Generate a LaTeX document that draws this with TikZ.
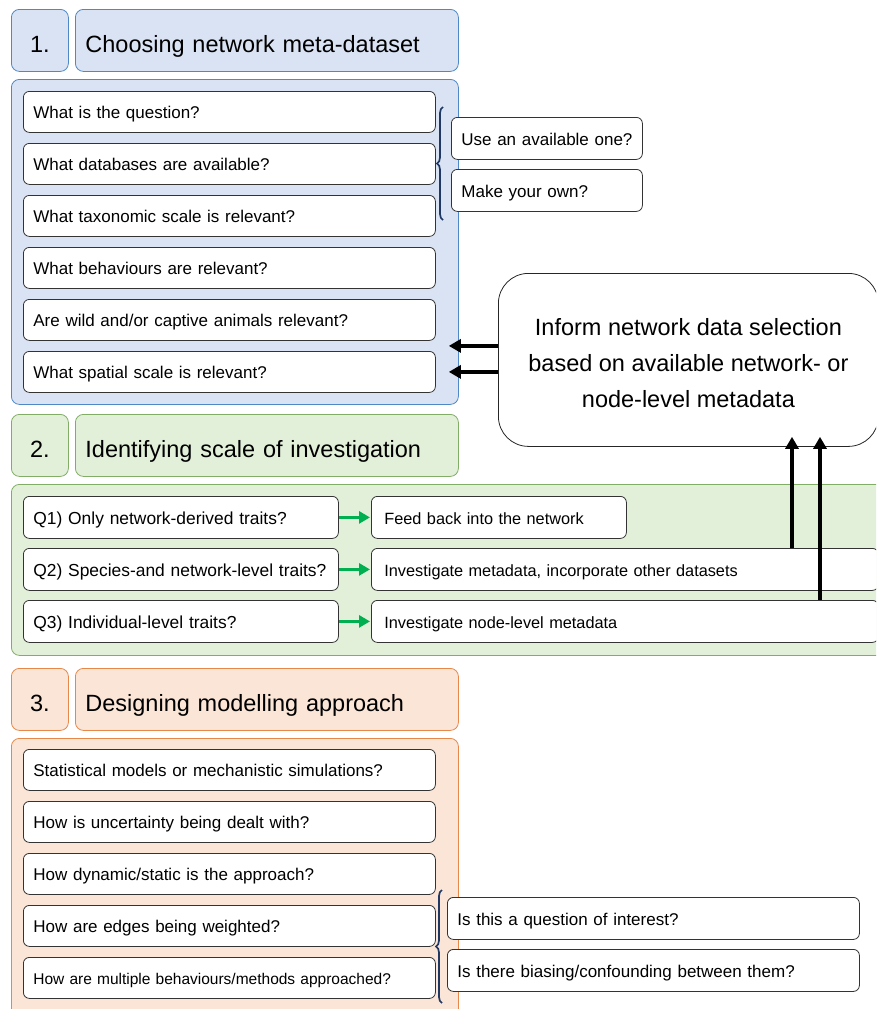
\documentclass[tikz,border=0pt]{standalone}
\usepackage{fontspec}
\setmainfont{Liberation Sans}
\usepackage{xcolor}
\usetikzlibrary{arrows.meta,positioning,calc,decorations.pathreplacing}
\definecolor{blfill}{HTML}{DAE3F3}
\definecolor{blline}{HTML}{4F88C6}
\definecolor{grfill}{HTML}{E2F0D9}
\definecolor{grline}{HTML}{82AD66}
\definecolor{orfill}{HTML}{FBE5D6}
\definecolor{orline}{HTML}{E6884A}
\definecolor{bracecol}{HTML}{1F3864}
\definecolor{arrgreen}{HTML}{00B050}

\begin{document}
\begin{tikzpicture}[x=1pt,y=-1pt,
  panel/.style={draw,rounded corners=8pt,line width=0.8pt,anchor=north west,inner sep=0pt},
  numbox/.style={panel,minimum width=57pt,minimum height=62pt,text height=24pt,text depth=0pt,
    font=\fontsize{23.5}{28}\selectfont},
  titlebox/.style={panel,minimum width=383pt,minimum height=62pt,inner xsep=10pt,
    text width=363pt,align=left,text height=24pt,text depth=0pt,font=\fontsize{23.5}{28}\selectfont},
  qbox/.style={draw=black!80,fill=white,rounded corners=6pt,line width=0.8pt,anchor=north west,
    minimum height=41pt,inner xsep=10pt,inner ysep=0pt,text width=#1,align=left,
    text height=15pt,text depth=1.4pt,font=\fontsize{17}{19}\selectfont},
  blk/.style={line width=3.3pt,-{Triangle[width=13pt,length=12pt]}},
  grn/.style={arrgreen,line width=3.4pt,-{Triangle[width=12pt,length=11pt]},shorten >=1pt},
  brc/.style={bracecol,line width=1.7pt,decorate,decoration={brace,amplitude=6pt,aspect=0.5}}]
 \useasboundingbox (0,0) rectangle (876,1009);
 \clip (0,0) rectangle (876,1009);
 % 1. choosing network meta-dataset
 \node[numbox,fill=blfill,draw=blline] (n1) at (11,9) {1.};
 \node[titlebox,fill=blfill,draw=blline] (t1) at (75,9) {Choosing network meta-dataset};
 \node[panel,fill=blfill,draw=blline,minimum width=447pt,minimum height=325pt] (pan1) at (11,79) {};
 \node[qbox=392pt] (a1) at (23,91)  {What is the question?};
 \node[qbox=392pt] (a2) at (23,143) {What databases are available?};
 \node[qbox=392pt] (a3) at (23,195) {What taxonomic scale is relevant?};
 \node[qbox=392pt] (a4) at (23,247) {What behaviours are relevant?};
 \node[qbox=392pt] (a5) at (23,299) {Are wild and/or captive animals relevant?};
 \node[qbox=392pt] (a6) at (23,351) {What spatial scale is relevant?};
 \draw[brc] (443,220) -- (443,107);
 \node[qbox=181pt,inner xsep=5pt,minimum height=42pt] (u1) at (451,117) {\hspace*{5pt}Use an available one?};
 \node[qbox=181pt,inner xsep=5pt,minimum height=42pt] (u2) at (451,169) {\hspace*{5pt}Make your own?};
 % 2. identifying scale of investigation
 \node[numbox,fill=grfill,draw=grline] (n2) at (11,414) {2.};
 \node[titlebox,fill=grfill,draw=grline] (t2) at (75,414) {Identifying scale of investigation};
 \node[panel,fill=grfill,draw=grline,minimum width=875pt,minimum height=171pt] (pan2) at (11,484) {};
 \tikzset{qq/.style={qbox=295pt,minimum height=42pt,font=\fontsize{17.4}{19}\selectfont},
   mm/.style={qbox=#1,minimum height=42pt,inner xsep=13pt,font=\fontsize{16.3}{19}\selectfont}}
 \node[qq] (q1) at (23,496) {Q1) Only network-derived traits?};
 \node[qq] (q2) at (23,548) {Q2) Species-and network-level traits?};
 \node[qq] (q3) at (23,600) {Q3) Individual-level traits?};
 \node[mm=229pt] (m1) at (371,496) {Feed back into the network};
 \node[mm=481pt] (m2) at (371,548) {Investigate metadata, incorporate other datasets};
 \node[mm=481pt] (m3) at (371,600) {Investigate node-level metadata};
 \draw[grn] (q1) -- (m1);
 \draw[grn] (q2) -- (m2);
 \draw[grn] (q3) -- (m3);
 % metadata feedback
 \node[draw=black!85,fill=white,rounded corners=30pt,line width=0.8pt,anchor=north west,
   minimum width=380pt,minimum height=173pt,align=center,
   font=\fontsize{23.5}{36}\selectfont] (inform) at (498,273)
   {\rule{0pt}{23pt}Inform network data selection\\ based on available network- or\\ node-level metadata};
 \draw[blk] ([yshift=14pt]inform.west) -- ([yshift=14pt,xshift=-10pt]inform.west -| pan1.east);
 \draw[blk] ([yshift=-12pt]inform.west) -- ([yshift=-12pt,xshift=-10pt]inform.west -| pan1.east);
 \draw[blk] ([xshift=421pt]m2.north west) -- ([xshift=421pt,yshift=10pt]m2.north west |- inform.south);
 \draw[blk] ([xshift=449pt]m3.north west) -- ([xshift=449pt,yshift=10pt]m3.north west |- inform.south);
 % 3. designing modelling approach
 \node[numbox,fill=orfill,draw=orline] (n3) at (11,668) {3.};
 \node[titlebox,fill=orfill,draw=orline] (t3) at (75,668) {Designing modelling approach};
 \node[panel,fill=orfill,draw=orline,minimum width=447pt,minimum height=280pt] (pan3) at (11,738) {};
 \node[qbox=392pt] (d1) at (23,749) {Statistical models or mechanistic simulations?};
 \node[qbox=392pt] (d2) at (23,801) {How is uncertainty being dealt with?};
 \node[qbox=392pt] (d3) at (23,853) {How dynamic/static is the approach?};
 \node[qbox=392pt] (d4) at (23,905) {How are edges being weighted?};
 \node[qbox=392pt,font=\fontsize{15.5}{18}\selectfont] (d5) at (23,957) {How are multiple behaviours/methods approached?};
 \draw[brc] (442,1003) -- (442,890);
 \node[qbox=392pt,minimum height=42pt] (w1) at (447,897) {Is this a question of interest?};
 \node[qbox=392pt,minimum height=42pt] (w2) at (447,949) {Is there biasing/confounding between them?};
\end{tikzpicture}
\end{document}
